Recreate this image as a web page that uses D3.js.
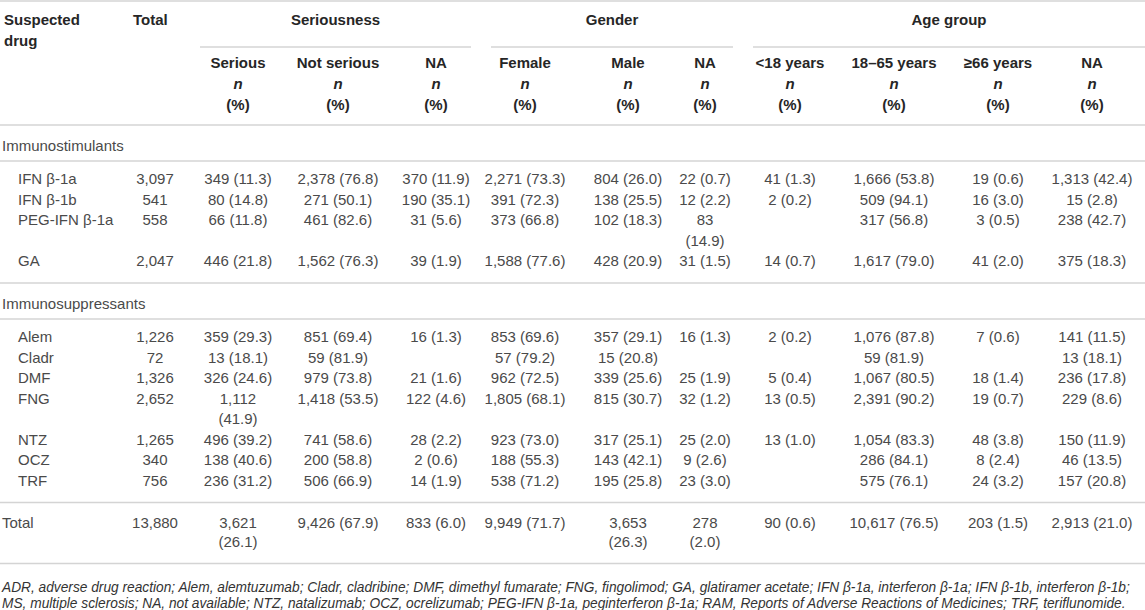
<!DOCTYPE html>
<html>
<head>
<meta charset="utf-8">
<script src="https://cdn.jsdelivr.net/npm/d3@7/dist/d3.min.js"></script>
<style>
  body { margin: 0; background: #fff; }
  svg { display: block; }
</style>
</head>
<body>
<script>
// table data
var sections = ["Immunostimulants", "Immunosuppressants"];
var drugs = ["IFN β-1a", "IFN β-1b", "PEG-IFN β-1a", "GA",
             "Alem", "Cladr", "DMF", "FNG", "NTZ", "OCZ", "TRF"];
var drugSection = [0, 0, 0, 0, 1, 1, 1, 1, 1, 1, 1];
var totals = [3097, 541, 558, 2047, 1226, 72, 1326, 2652, 1265, 340, 756];

var seriousN = [349, 80, 66, 446, 359, 13, 326, 1112, 496, 138, 236];
var seriousP = [11.3, 14.8, 11.8, 21.8, 29.3, 18.1, 24.6, 41.9, 39.2, 40.6, 31.2];
var notSeriousN = [2378, 271, 461, 1562, 851, 59, 979, 1418, 741, 200, 506];
var notSeriousP = [76.8, 50.1, 82.6, 76.3, 69.4, 81.9, 73.8, 53.5, 58.6, 58.8, 66.9];
var seriousNaN = [370, 190, 31, 39, 16, null, 21, 122, 28, 2, 14];
var seriousNaP = [11.9, 35.1, 5.6, 1.9, 1.3, null, 1.6, 4.6, 2.2, 0.6, 1.9];

var femaleN = [2271, 391, 373, 1588, 853, 57, 962, 1805, 923, 188, 538];
var femaleP = [73.3, 72.3, 66.8, 77.6, 69.6, 79.2, 72.5, 68.1, 73.0, 55.3, 71.2];
var maleN = [804, 138, 102, 428, 357, 15, 339, 815, 317, 143, 195];
var maleP = [26.0, 25.5, 18.3, 20.9, 29.1, 20.8, 25.6, 30.7, 25.1, 42.1, 25.8];
var genderNaN = [22, 12, 83, 31, 16, null, 25, 32, 25, 9, 23];
var genderNaP = [0.7, 2.2, 14.9, 1.5, 1.3, null, 1.9, 1.2, 2.0, 2.6, 3.0];

var under18N = [41, 2, null, 14, 2, null, 5, 13, 13, null, null];
var under18P = [1.3, 0.2, null, 0.7, 0.2, null, 0.4, 0.5, 1.0, null, null];
var age1865N = [1666, 509, 317, 1617, 1076, 59, 1067, 2391, 1054, 286, 575];
var age1865P = [53.8, 94.1, 56.8, 79.0, 87.8, 81.9, 80.5, 90.2, 83.3, 84.1, 76.1];
var over66N = [19, 16, 3, 41, 7, null, 18, 19, 48, 8, 24];
var over66P = [0.6, 3.0, 0.5, 2.0, 0.6, null, 1.4, 0.7, 3.8, 2.4, 3.2];
var ageNaN = [1313, 15, 238, 375, 141, 13, 236, 229, 150, 46, 157];
var ageNaP = [42.4, 2.8, 42.7, 18.3, 11.5, 18.1, 17.8, 8.6, 11.9, 13.5, 20.8];

var totalRowN = [3621, 9426, 833, 9949, 3653, 278, 90, 10617, 203, 2913];
var totalRowP = [26.1, 67.9, 6.0, 71.7, 26.3, 2.0, 0.6, 76.5, 1.5, 21.0];
var grandTotal = 13880;

var groupHeads = ["Seriousness", "Gender", "Age group"];
var subHeads = ["Serious", "Not serious", "NA", "Female", "Male", "NA",
                "<18 years", "18–65 years", "≥66 years", "NA"];
var footnote = [
  "ADR, adverse drug reaction; Alem, alemtuzumab; Cladr, cladribine; DMF, dimethyl fumarate; FNG, fingolimod; GA, glatiramer acetate; IFN β-1a, interferon β-1a; IFN β-1b, interferon β-1b;",
  "MS, multiple sclerosis; NA, not available; NTZ, natalizumab; OCZ, ocrelizumab; PEG-IFN β-1a, peginterferon β-1a; RAM, Reports of Adverse Reactions of Medicines; TRF, teriflunomide."
];

var width = 1145, height = 610;
var font = "'Liberation Sans', Arial, sans-serif";
var lineH = 20.5;

var svg = d3.select("body").append("svg")
  .attr("width", width).attr("height", height)
  .style("font-family", font);

// column layout
var colKeys = d3.range(10);
var colX = d3.scaleOrdinal().domain(colKeys)
  .range([238, 338, 436, 525, 628, 705, 790, 894, 998, 1092]);
var colMaxW = [75, 200, 200, 200, 75, 56, 200, 200, 200, 200];
var colN = [seriousN, notSeriousN, seriousNaN, femaleN, maleN, genderNaN,
            under18N, age1865N, over66N, ageNaN];
var colP = [seriousP, notSeriousP, seriousNaP, femaleP, maleP, genderNaP,
            under18P, age1865P, over66P, ageNaP];
var groupSpan = [[200, 471], [491, 733], [753, 1150]];

var fmtN = d3.format(",");
var fmtP = d3.format(".1f");

// measuring helper for wrapping
var meas = svg.append("text").attr("font-size", 15).attr("visibility", "hidden");
function textW(s) { meas.text(s); return meas.node().getComputedTextLength(); }
function cellLines(n, p, c) {
  if (n == null) return [];
  var s = fmtN(n) + " (" + fmtP(p) + ")";
  if (textW(s) > colMaxW[c]) return [fmtN(n), "(" + fmtP(p) + ")"];
  return [s];
}

function hline(y, x0, x1) {
  svg.append("line")
    .attr("x1", x0).attr("x2", x1).attr("y1", y).attr("y2", y)
    .attr("stroke", "#d4d4d4").attr("stroke-width", 1.6);
}

// header
hline(1, 0, width);
var head = svg.append("g").attr("font-weight", "bold").attr("font-size", 15).attr("fill", "#262626");
head.append("text").attr("x", 4).attr("y", 20).attr("dy", "0.35em").text("Suspected");
head.append("text").attr("x", 4).attr("y", 41).attr("dy", "0.35em").text("drug");
head.append("text").attr("x", 133).attr("y", 20).attr("dy", "0.35em").text("Total");

head.selectAll("text.grp").data(groupHeads).enter().append("text")
  .attr("class", "grp")
  .attr("x", function(d, i) { return (groupSpan[i][0] + Math.min(groupSpan[i][1], width)) / 2; })
  .attr("y", 20).attr("dy", "0.35em").attr("text-anchor", "middle")
  .text(function(d) { return d; });
groupSpan.forEach(function(s) { hline(47, s[0], s[1]); });

var sub = head.selectAll("g.sub").data(subHeads).enter().append("g")
  .attr("class", "sub")
  .attr("transform", function(d, i) { return "translate(" + colX(i) + ",0)"; })
  .attr("text-anchor", "middle");
sub.append("text").attr("y", 63).attr("dy", "0.35em").text(function(d) { return d; });
sub.append("text").attr("y", 84).attr("dy", "0.35em").attr("font-style", "italic").text("n");
sub.append("text").attr("y", 105).attr("dy", "0.35em").text("(%)");
hline(125, 0, width);

// body
var body = svg.append("g").attr("font-size", 15).attr("fill", "#4a4a4a");
var y = 125;
sections.forEach(function(sec, si) {
  body.append("text").attr("x", 2).attr("y", y + 21).attr("dy", "0.35em").text(sec);
  y += 36;
  hline(y, 0, width);
  y += 18;
  drugs.forEach(function(dr, i) {
    if (drugSection[i] !== si) return;
    var cells = colKeys.map(function(c) { return cellLines(colN[c][i], colP[c][i], c); });
    var nl = d3.max(cells, function(c) { return c.length; }) || 1;
    var rowY = d3.scaleLinear().domain([0, 1]).range([y, y + lineH]);
    body.append("text").attr("x", 18).attr("y", rowY(0)).attr("dy", "0.35em").text(dr);
    body.append("text").attr("x", 155).attr("y", rowY(0)).attr("dy", "0.35em")
      .attr("text-anchor", "middle").text(fmtN(totals[i]));
    cells.forEach(function(lines, c) {
      body.selectAll(null).data(lines).enter().append("text")
        .attr("x", colX(c)).attr("y", function(d, k) { return rowY(k); })
        .attr("dy", "0.35em").attr("text-anchor", "middle")
        .text(function(d) { return d; });
    });
    y += nl * lineH;
  });
  y = y - lineH + 22;
  hline(y, 0, width);
});

// total row
var tY = y + 20;
body.append("text").attr("x", 2).attr("y", tY).attr("dy", "0.35em").text("Total");
body.append("text").attr("x", 155).attr("y", tY).attr("dy", "0.35em")
  .attr("text-anchor", "middle").text(fmtN(grandTotal));
colKeys.forEach(function(c) {
  var lines = cellLines(totalRowN[c], totalRowP[c], c);
  body.selectAll(null).data(lines).enter().append("text")
    .attr("x", colX(c)).attr("y", function(d, k) { return tY + k * 19; })
    .attr("dy", "0.35em").attr("text-anchor", "middle")
    .text(function(d) { return d; });
});
hline(tY + 41, 0, width);

// footnote
var fn = svg.append("g").attr("font-style", "italic").attr("fill", "#333");
var f1 = fn.append("text").attr("x", 2).attr("font-size", 14).text(footnote[0]);
var fs = 14 * 1129 / f1.node().getComputedTextLength();
f1.attr("font-size", fs).attr("y", tY + 65).attr("dy", "0.35em");
fn.append("text").attr("x", 2).attr("font-size", fs).attr("y", tY + 81).attr("dy", "0.35em").text(footnote[1]);
</script>
</body>
</html>
